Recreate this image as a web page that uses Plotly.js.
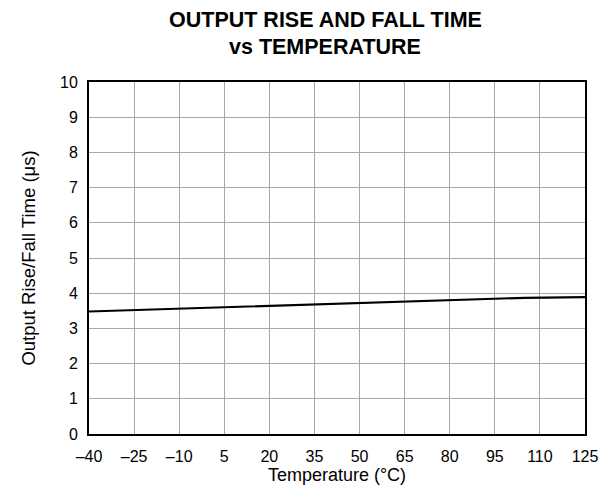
<!DOCTYPE html>
<html>
<head>
<meta charset="utf-8">
<script src="https://cdn.plot.ly/plotly-3.0.1.min.js"></script>
<style>html,body{margin:0;padding:0;background:#fff;}#chart{width:600px;height:487px;}</style>
</head>
<body>
<div id="chart"></div>
<script>
const temperature = [-40, -10, 20, 50, 80, 105, 125];
const riseFallTime = [3.48, 3.56, 3.64, 3.72, 3.80, 3.87, 3.89];
const xTickVals = [-40, -25, -10, 5, 20, 35, 50, 65, 80, 95, 110, 125];
const xTickText = ["–40", "–25", "–10", "5", "20", "35", "50", "65", "80", "95", "110", "125"];
const yTickVals = [0, 1, 2, 3, 4, 5, 6, 7, 8, 9, 10];

const font = "Liberation Sans, Arial, sans-serif";
Plotly.newPlot("chart", [{
  x: temperature, y: riseFallTime, mode: "lines", type: "scatter",
  line: {color: "#000", width: 2.2}, hoverinfo: "skip"
}], {
  width: 600, height: 487,
  margin: {l: 89, r: 15, t: 82, b: 53},
  paper_bgcolor: "#fff", plot_bgcolor: "#fff",
  showlegend: false,
  font: {family: font, color: "#000", size: 16},
  annotations: [
    {text: "<b>OUTPUT RISE AND FALL TIME</b>", xref: "paper", yref: "paper", x: 0.476, y: 1, xanchor: "center", yanchor: "middle", yshift: 62, showarrow: false, font: {size: 21.5, family: font}},
    {text: "<b>vs TEMPERATURE</b>", xref: "paper", yref: "paper", x: 0.476, y: 1, xanchor: "center", yanchor: "middle", yshift: 35, showarrow: false, font: {size: 21.5, family: font}}
  ],
  xaxis: {
    range: [-40, 125], tickvals: xTickVals, ticktext: xTickText,
    showgrid: true, gridcolor: "#a8a8a8", gridwidth: 1,
    showline: true, linecolor: "#000", linewidth: 2, mirror: true,
    ticks: "", zeroline: false, tickfont: {size: 16}, ticklabelstandoff: 7,
    title: {text: "Temperature (°C)", font: {size: 18}, standoff: 4}
  },
  yaxis: {
    range: [0, 10], tickvals: yTickVals,
    showgrid: true, gridcolor: "#a8a8a8", gridwidth: 1,
    showline: true, linecolor: "#000", linewidth: 2, mirror: true,
    ticks: "", zeroline: false, tickfont: {size: 16}, ticklabelstandoff: 6,
    title: {text: "Output Rise/Fall Time (μs)", font: {size: 18.5}, standoff: 20}
  }
}, {displayModeBar: false, staticPlot: true});
</script>
</body>
</html>
